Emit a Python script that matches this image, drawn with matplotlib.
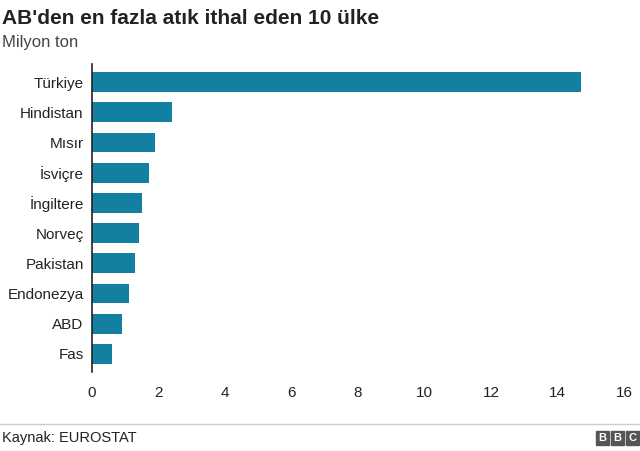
import matplotlib
matplotlib.use("Agg")
import matplotlib.pyplot as plt

countries = ["Türkiye", "Hindistan", "Mısır", "İsviçre", "İngiltere", "Norveç", "Pakistan", "Endonezya", "ABD", "Fas"]
values = [14.72, 2.42, 1.9, 1.72, 1.51, 1.42, 1.3, 1.12, 0.9, 0.6]
ticks = [0, 2, 4, 6, 8, 10, 12, 14, 16]

plt.rcParams['font.family'] = ['Liberation Sans', 'DejaVu Sans']
fig = plt.figure(figsize=(6.4, 4.51), dpi=100)
ax = fig.add_axes([92/640, 1-372/451, (624-92)/640, (372-64)/451])
y = range(len(countries))
ax.barh(y, values, height=0.66, color="#1380a1")
ax.set_yticks(list(y))
ax.set_yticklabels(countries, fontsize=11)
ax.invert_yaxis()
ax.set_ylim(len(countries)-0.4, -0.6)
ax.set_xlim(0, 16)
ax.set_xticks(ticks)
ax.set_xticklabels([str(t) for t in ticks], fontsize=11)
for s in ["top", "right", "bottom"]:
    ax.spines[s].set_visible(False)
ax.spines["left"].set_color("#222222")
ax.spines["left"].set_linewidth(1.2)
ax.tick_params(length=0, pad=6, colors="#222222")
ax.tick_params(axis="x", pad=10)

fig.text(2/640, 1-18/451, "AB'den en fazla atık ithal eden 10 ülke", fontsize=15, fontweight="bold", va="center", color="#222222")
fig.text(2/640, 1-42/451, "Milyon ton", fontsize=12, va="center", color="#444444")
fig.add_artist(plt.Line2D([0, 1], [1-424/451, 1-424/451], color="#cccccc", lw=1))
fig.text(2/640, 1-438/451, "Kaynak: EUROSTAT", fontsize=10.5, va="center", color="#222222")
for i, ch in enumerate("BBC"):
    x0 = 596/640 + i*15/640
    fig.patches.append(matplotlib.patches.Rectangle((x0, 1-445/451), 13/640, 14/451, transform=fig.transFigure, color="#555555"))
    fig.text(x0 + 6.5/640, 1-438/451, ch, fontsize=8, fontweight="bold", color="white", ha="center", va="center")
fig.savefig("out.png", dpi=100)
